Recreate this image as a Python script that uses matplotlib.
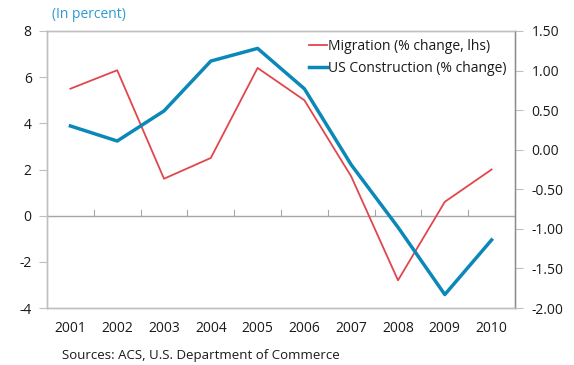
import matplotlib
matplotlib.use("Agg")
import matplotlib.pyplot as plt
import numpy as np

years = ["2001", "2002", "2003", "2004", "2005", "2006", "2007", "2008", "2009", "2010"]
migration = [5.5, 6.3, 1.6, 2.5, 6.4, 5.0, 1.7, -2.8, 0.6, 2.0]
construction = [0.30, 0.11, 0.49, 1.12, 1.28, 0.77, -0.19, -0.98, -1.83, -1.14]
left_ticks = [-4, -2, 0, 2, 4, 6, 8]
right_ticks = [-2.0, -1.5, -1.0, -0.5, 0.0, 0.5, 1.0, 1.5]

plt.rcParams["font.family"] = ["Open Sans", "DejaVu Sans"]
RED = "#e0474c"
BLUE = "#0b88b8"
GRID = "#bfbfbf"
TXT = "#1a1a1a"

fig = plt.figure(figsize=(5.74, 3.65), dpi=100)
ax = fig.add_axes([47 / 574, 1 - 308 / 365, 468 / 574, 277 / 365])
ax2 = ax.twinx()

x = np.arange(len(years))
ax.plot(x, migration, color=RED, lw=1.3, label="Migration (% change, lhs)", zorder=3)
ax2.plot(x, construction, color=BLUE, lw=2.5, label="US Construction (% change)", zorder=3)

ax.set_xlim(-0.5, len(years) - 0.5)
ax.set_ylim(-4, 8)
ax2.set_ylim(-2.0, 1.5)
ax.set_yticks(left_ticks)
ax.set_yticklabels([str(v) for v in left_ticks])
ax2.set_yticks(right_ticks)
ax2.set_yticklabels([f"{v:.2f}" for v in right_ticks])

# category labels under the plot; boundary tick marks sit on the zero line
ax.set_xticks(x)
ax.set_xticklabels(years)
ax.tick_params(axis="x", length=0, pad=9, labelsize=10, labelcolor=TXT)
ax.axhline(0, color="#a6a6a6", lw=1.0, zorder=1)
for b in np.arange(0.5, len(years) - 1, 1.0):
    ax.plot([b, b], [0, 0.25], color="#a6a6a6", lw=0.8, zorder=1)

ax.tick_params(axis="y", length=6, width=0.8, color=GRID, labelsize=10, labelcolor=TXT, pad=5)
ax2.tick_params(axis="y", length=6, width=0.8, color=GRID, labelsize=10, labelcolor=TXT, pad=6)

for a in (ax, ax2):
    for s in a.spines.values():
        s.set_color(GRID)
        s.set_linewidth(1.0)
ax2.spines["right"].set_color("#8c8c8c")

h1, l1 = ax.get_legend_handles_labels()
h2, l2 = ax2.get_legend_handles_labels()
leg = ax2.legend(h1 + h2, l1 + l2, loc="upper right", frameon=False, fontsize=10,
                 handlelength=1.3, handletextpad=0.1, borderaxespad=0.2,
                 labelspacing=0.45, bbox_to_anchor=(1.0, 1.0))
for t in leg.get_texts():
    t.set_color(TXT)

fig.text(52 / 574, 1 - 15 / 365, "(In percent)", color="#2d9bd0", fontsize=10, va="center", ha="left")
fig.text(62 / 574, 1 - 355 / 365, "Sources: ACS, U.S. Department of Commerce", color=TXT,
         fontsize=9.5, va="center", ha="left")

fig.savefig("out.png", dpi=100)
